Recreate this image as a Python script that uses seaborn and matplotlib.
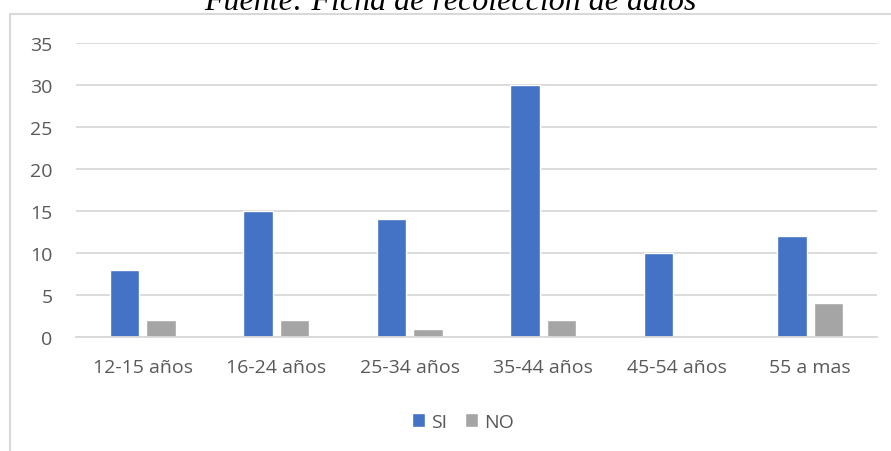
import pandas as pd
import matplotlib
matplotlib.use('Agg')
import matplotlib.pyplot as plt
import seaborn as sns
from matplotlib.lines import Line2D

# data
categories = ['12-15 años', '16-24 años', '25-34 años', '35-44 años', '45-54 años', '55 a mas']
si_values = [8, 15, 14, 30, 10, 12]
no_values = [2, 2, 1, 2, 0, 4]
series_names = ['SI', 'NO']
yticks = [0, 5, 10, 15, 20, 25, 30, 35]

df = pd.DataFrame({
    'grupo': categories * 2,
    'valor': si_values + no_values,
    'respuesta': [series_names[0]] * len(categories) + [series_names[1]] * len(categories),
})

sns.set_style('white')
plt.rcParams['font.family'] = ['Open Sans', 'DejaVu Sans']
text_color = '#595959'
grid_color = '#D9D9D9'
fs = 14

fig = plt.figure(figsize=(8.91, 4.52), dpi=100)
ax = fig.add_axes([76 / 891, 1 - 338 / 452, (877 - 76) / 891, (338 - 44) / 452])

sns.barplot(data=df, x='grupo', y='valor', hue='respuesta', ax=ax,
            palette={'SI': '#4472C4', 'NO': '#A5A5A5'},
            width=0.55, gap=0.2, saturation=1, errorbar=None)

ax.set_ylim(0, 35)
ax.set_yticks(yticks)
ax.yaxis.grid(True, color=grid_color, linewidth=1.3)
ax.set_axisbelow(True)
ax.set_xlabel('')
ax.set_ylabel('')
for s in ['top', 'right', 'left']:
    ax.spines[s].set_visible(False)
ax.spines['bottom'].set_color(grid_color)
ax.spines['bottom'].set_linewidth(1.3)
ax.tick_params(axis='y', length=0, pad=17, labelsize=fs, labelcolor=text_color)
ax.tick_params(axis='x', length=0, pad=15, labelsize=fs, labelcolor=text_color)

sns.move_legend(ax, 'center', bbox_to_anchor=(463 / 891, 1 - 423 / 452),
                bbox_transform=fig.transFigure, ncol=2, frameon=False, title=None,
                fontsize=fs, handlelength=0.7, handleheight=0.7,
                handletextpad=0.3, columnspacing=0.9)
for t in ax.get_legend().get_texts():
    t.set_color(text_color)

# chart border (partly cut off, like the source)
bx, by = 10 / 891, 1 - 15 / 452
fig.add_artist(Line2D([bx, 1.0], [by, by], color=grid_color, linewidth=1.5))
fig.add_artist(Line2D([bx, bx], [by, 0.0], color=grid_color, linewidth=1.5))

# caption above, cut by the top edge as in the source
fig.text(450 / 891, 1 - 10 / 452, 'Fuente: Ficha de recolección de datos',
         ha='center', va='baseline', fontsize=23, style='italic',
         family=['Liberation Serif', 'DejaVu Serif'], color='black')

fig.savefig('out.png', dpi=100)
